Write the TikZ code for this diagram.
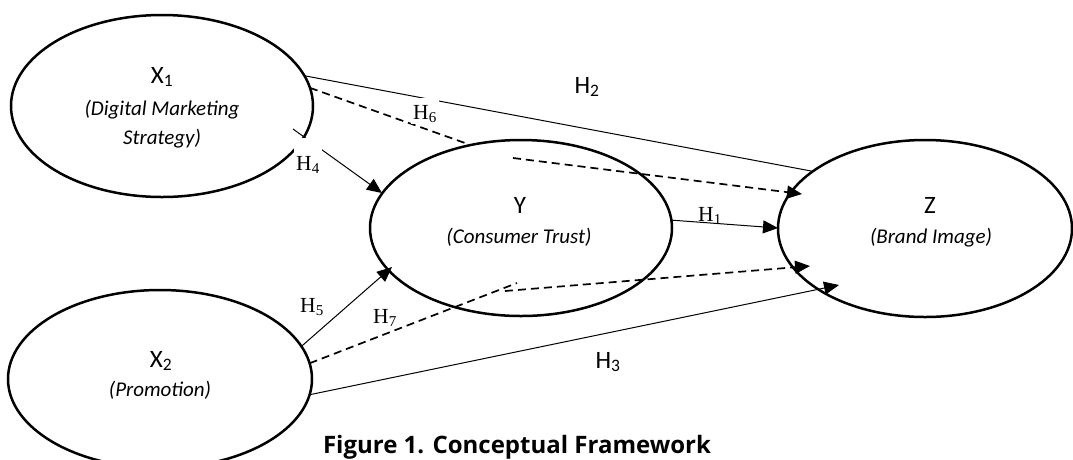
\documentclass[tikz,border=0pt]{standalone}
\usepackage{fontspec}
\setmainfont{Carlito}
\newfontfamily\hfont{Liberation Serif}
\newfontfamily\capfont{Open Sans}
\usetikzlibrary{arrows.meta,shapes.geometric}

\begin{document}
\begin{tikzpicture}[x=1pt,y=-1pt,
    latent/.style={draw,ellipse,line width=2.5pt,outer sep=0pt,inner sep=0pt},
    vname/.style={anchor=base,font=\fontsize{25}{30}\selectfont},
    vdesc/.style={anchor=base,font=\fontsize{21}{25}\selectfont\itshape},
    hyp/.style={anchor=base,inner sep=2pt,font=\hfont\fontsize{21.5}{25}\selectfont},
    hyps/.style={anchor=base,inner sep=2pt,font=\fontsize{25}{30}\selectfont},
    link/.style={line width=1pt},
    dlink/.style={line width=1.7pt,dash pattern=on 8pt off 5pt},
    tip/.style={-{Triangle[length=15pt,width=13pt]}}]
    \useasboundingbox (0,0) rectangle (1073,459);
    % constructs
    \node[latent,minimum width=302,minimum height=182] (x1) at (162,106) {};
    \node[latent,minimum width=302,minimum height=176] (y) at (521,228) {};
    \node[latent,minimum width=294,minimum height=177] (z) at (925,228.5) {};
    \node[latent,minimum width=304,minimum height=178] (x2) at (160,379) {};
    \node[vname] (x1v) at (162,83) {X\textsubscript{1}};
    \node[vdesc] (x1d) at (162,115) {(Digital Marketing};
    \node[vdesc] (x1e) at (162,144) {Strategy)};
    \node[vname] (yv) at (520,213) {Y};
    \node[vdesc] (yd) at (519,243) {(Consumer Trust)};
    \node[vname] (zv) at (930,213) {Z};
    \node[vdesc] (zd) at (931,243) {(Brand Image)};
    \node[vname] (x2v) at (161,367) {X\textsubscript{2}};
    \node[vdesc] (x2d) at (160,396) {(Promotion)};
    % ends and bends
    \coordinate (h4s) at (293,129);
    \coordinate (h4t) at (382,193);
    \coordinate (h1t) at (778,228);
    \coordinate (h5t) at (392,267);
    \coordinate (h6a) at (465,143);
    \coordinate (h6b) at (513,158);
    \coordinate (h6t) at (802,194);
    \coordinate (h7a) at (517,283);
    \coordinate (h7b) at (505,291);
    \coordinate (h7t) at (810,266);
    \coordinate (h3t) at (839,285);
    % paths
    \draw[link] (x1.12) -- (z.153);
    \draw[dlink] (x1.7) -- (h6a);
    \draw[dlink,tip] (h6b) -- (h6t);
    \draw[link,tip] (h4s) -- (h4t);
    \draw[link,tip] (y.3) -- (h1t);
    \draw[link,tip] (x2.13) -- (h5t);
    \draw[dlink] (x2.6) -- (h7a);
    \draw[dlink,tip] (h7b) -- (h7t);
    \draw[link,tip] (x2.-6) -- (h3t);
    % hypotheses
    \node[hyps] (h2) at (587,93) {H\textsubscript{2}};
    \node[hyp,fill=white,text height=19pt] (h6) at (425,119) {H\textsubscript{6}};
    \node[hyp,fill=white,text height=30pt] (h4) at (308,170) {H\textsubscript{4}};
    \node[hyp] (h1) at (710,221) {H\textsubscript{1}};
    \node[hyp] (h5) at (312,312) {H\textsubscript{5}};
    \node[hyp] (h7) at (385,323) {H\textsubscript{7}};
    \node[hyps] (h3) at (608,368) {H\textsubscript{3}};
    \node[anchor=base,font=\capfont\bfseries\fontsize{24}{28}\selectfont] (cap) at (517,453) {Figure 1. Conceptual Framework};
\end{tikzpicture}
\end{document}
